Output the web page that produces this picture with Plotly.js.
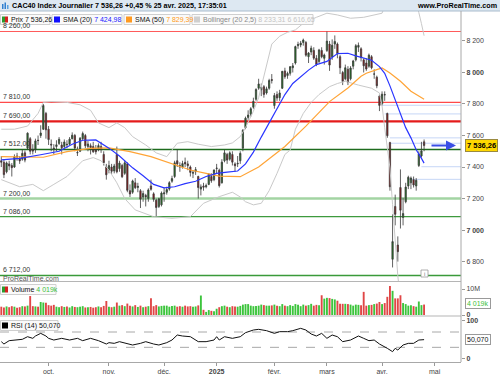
<!DOCTYPE html>
<html><head><meta charset="utf-8">
<script src="https://cdn.plot.ly/plotly-3.0.1.min.js"></script>
<style>html,body{margin:0;padding:0;background:#fff}#chart{width:500px;height:375px}</style>
</head><body><div id="chart"></div>
<script>
// ---------------- DATA ----------------
const dates = [
'2024-09-05','2024-09-06','2024-09-09','2024-09-10','2024-09-11','2024-09-12','2024-09-13','2024-09-16','2024-09-17','2024-09-18',
'2024-09-19','2024-09-20','2024-09-23','2024-09-24','2024-09-25','2024-09-26','2024-09-27','2024-09-30','2024-10-01','2024-10-02',
'2024-10-03','2024-10-04','2024-10-07','2024-10-08','2024-10-09','2024-10-10','2024-10-11','2024-10-14','2024-10-15','2024-10-16',
'2024-10-17','2024-10-18','2024-10-21','2024-10-22','2024-10-23','2024-10-24','2024-10-25','2024-10-28','2024-10-29','2024-10-30',
'2024-10-31','2024-11-01','2024-11-04','2024-11-05','2024-11-06','2024-11-07','2024-11-08','2024-11-11','2024-11-12','2024-11-13',
'2024-11-14','2024-11-15','2024-11-18','2024-11-19','2024-11-20','2024-11-21','2024-11-22','2024-11-25','2024-11-26','2024-11-27',
'2024-11-28','2024-11-29','2024-12-02','2024-12-03','2024-12-04','2024-12-05','2024-12-06','2024-12-09','2024-12-10','2024-12-11',
'2024-12-12','2024-12-13','2024-12-16','2024-12-17','2024-12-18','2024-12-19','2024-12-20','2024-12-23','2024-12-24','2024-12-27',
'2024-12-30','2024-12-31','2025-01-02','2025-01-03','2025-01-06','2025-01-07','2025-01-08','2025-01-09','2025-01-10','2025-01-13',
'2025-01-14','2025-01-15','2025-01-16','2025-01-17','2025-01-20','2025-01-21','2025-01-22','2025-01-23','2025-01-24','2025-01-27',
'2025-01-28','2025-01-29','2025-01-30','2025-01-31','2025-02-03','2025-02-04','2025-02-05','2025-02-06','2025-02-07','2025-02-10',
'2025-02-11','2025-02-12','2025-02-13','2025-02-14','2025-02-17','2025-02-18','2025-02-19','2025-02-20','2025-02-21','2025-02-24',
'2025-02-25','2025-02-26','2025-02-27','2025-02-28','2025-03-03','2025-03-04','2025-03-05','2025-03-06','2025-03-07','2025-03-10',
'2025-03-11','2025-03-12','2025-03-13','2025-03-14','2025-03-17','2025-03-18','2025-03-19','2025-03-20','2025-03-21','2025-03-24',
'2025-03-25','2025-03-26','2025-03-27','2025-03-28','2025-03-31','2025-04-01','2025-04-02','2025-04-03','2025-04-04','2025-04-07',
'2025-04-08','2025-04-09','2025-04-10','2025-04-11','2025-04-14','2025-04-15','2025-04-16','2025-04-17','2025-04-22','2025-04-23',
'2025-04-24','2025-04-25'];

const openP = [
7440,7430,7370,7420,7410,7400,7470,7455,7450,7490, 7520,7580,7510,7510,7570,7600,7640,7740,7640,7545,
7520,7530,7550,7540,7530,7545,7545,7580,7600,7490, 7500,7580,7600,7530,7535,7530,7510,7510,7530,7480,
7400,7380,7400,7375,7480,7390,7410,7360,7420,7250, 7240,7300,7270,7250,7210,7220,7200,7280,7230,7190,
7150,7160,7230,7240,7260,7310,7340,7440,7410,7400, 7430,7420,7400,7360,7370,7340,7260,7280,7275,7290,
7340,7320,7390,7380,7300,7440,7480,7450,7480,7420, 7420,7440,7520,7650,7715,7735,7780,7830,7900,7890,
7910,7870,7900,7955,7790,7860,7840,7900,8010,7980, 7995,8030,8060,8170,8175,8190,8190,8100,8130,8140,
8090,8070,8140,8090,8140,8180,8100,8180,8180,8100, 8000,7960,8020,7960,8040,8080,8160,8150,8080,8060,
8040,8100,7990,7970,7850,7800,7860,7740,7555,6815, 7150,6905,7270,7080,7180,7280,7300,7320,7280,7410,
7470,7560];
const highP = [
7470,7450,7435,7440,7425,7480,7490,7470,7510,7505, 7620,7590,7545,7580,7600,7665,7800,7750,7660,7575,
7545,7570,7590,7560,7575,7570,7590,7620,7610,7530, 7590,7625,7610,7565,7550,7560,7540,7550,7560,7500,
7420,7440,7420,7420,7530,7440,7420,7440,7430,7290, 7320,7330,7300,7260,7250,7230,7265,7320,7240,7200,
7205,7245,7270,7275,7310,7345,7440,7512,7430,7440, 7460,7440,7410,7380,7400,7345,7290,7300,7295,7360,
7360,7385,7420,7390,7450,7510,7490,7500,7500,7430, 7470,7500,7640,7720,7760,7780,7840,7900,7960,7930,
7920,7910,7960,7990,7870,7880,7890,8010,8030,8005, 8040,8060,8170,8195,8200,8215,8200,8130,8170,8160,
8110,8150,8160,8120,8260,8200,8210,8235,8190,8110, 8010,8050,8040,8040,8080,8180,8190,8160,8090,8090,
8120,8110,8020,7980,7860,7880,7880,7745,7560,7100, 7225,6960,7385,7205,7300,7345,7340,7340,7330,7500,
7560,7575];
const lowP = [
7400,7330,7360,7380,7340,7395,7440,7420,7440,7430, 7510,7480,7480,7490,7540,7585,7635,7580,7540,7500,
7480,7500,7540,7480,7520,7520,7540,7575,7500,7470, 7495,7570,7520,7500,7480,7490,7480,7500,7490,7410,
7320,7360,7355,7360,7360,7370,7330,7350,7240,7210, 7230,7260,7240,7140,7180,7150,7180,7250,7180,7086,
7140,7150,7180,7225,7250,7300,7330,7400,7370,7390, 7400,7380,7340,7330,7350,7200,7220,7250,7265,7285,
7300,7310,7360,7270,7295,7430,7420,7440,7410,7370, 7400,7420,7500,7640,7700,7720,7770,7820,7890,7850,
7840,7860,7890,7930,7770,7820,7820,7895,7960,7960, 7980,8000,8050,8150,8160,8170,8100,8060,8110,8080,
8040,8060,8090,8050,8130,8010,8080,8150,8090,7990, 7920,7950,7920,7950,8020,8070,8130,8070,8000,8010,
8030,8020,7960,7900,7755,7790,7820,7585,7250,6763, 7030,6800,7010,7030,7170,7260,7260,7270,7250,7400,
7460,7500];
const closeP = [
7431,7352,7426,7407,7396,7465,7465,7439,7487,7444, 7615,7500,7501,7566,7568,7616,7791,7636,7574,7540,
7515,7541,7576,7522,7559,7542,7577,7602,7521,7492, 7583,7613,7535,7546,7523,7497,7497,7536,7511,7428,
7351,7409,7373,7407,7370,7425,7339,7427,7252,7229, 7312,7269,7278,7196,7232,7212,7255,7259,7195,7143,
7199,7235,7236,7257,7301,7327,7427,7420,7400,7422, 7420,7409,7366,7366,7384,7270,7274,7272,7282,7355,
7313,7381,7393,7282,7431,7490,7444,7490,7431,7408, 7423,7487,7634,7710,7730,7770,7817,7892,7927,7906,
7861,7896,7949,7950,7854,7838,7870,8007,7973,7994, 8037,8042,8164,8178,8186,8206,8110,8123,8154,8091,
8051,8143,8100,8111,8199,8047,8173,8197,8120,8030, 7942,8030,7938,8028,8073,8170,8172,8094,8042,8022,
8110,8030,7990,7916,7791,7862,7858,7598,7275,6927, 7100,6863,7126,7105,7273,7335,7330,7286,7316,7483,
7502.4,7536.26];

// volume, millions
const volumeM = [
3.2,2.9,3.3,3.0,3.4,3.2,2.8,3.0,3.4,3.3,3.6, 7.3, 3.4,3.3,3.2, 5.0,4.8,4.7, 3.8,3.6,3.9,3.2,3.0,
3.4,3.1,3.3,2.9,3.4,3.1, 3.0,3.2,3.4,2.9,3.0,3.1,2.8,3.0,3.3,3.0,3.5, 5.4, 3.2,3.0,3.2, 4.8,
3.6,3.8,3.4,4.4, 3.6,3.3,3.8,3.1,3.6,3.0,3.2,3.4, 6.4,
3.4,3.8,3.3,3.5,3.6,3.6,3.2,3.5,3.6,3.2,3.4,3.2,3.6,3.3,3.4,3.2,3.3,3.7, 7.5,
2.0,1.2,1.9,1.6,1.4, 2.4,3.0,3.4,3.6,3.2,3.0,3.4,3.3,3.2, 3.5,4.0,4.2,4.2,3.6,3.4,3.5,
3.6,4.0,3.8,3.6,3.6,3.7,4.0,3.6,3.4,4.2,3.6,3.4,3.8, 3.5,4.2,3.9,3.4,4.0,3.6,3.8,4.3,3.6,3.9,3.8,
7.6, 6.3,6.6,6.5,6.2,6.0,5.5,4.3,4.3, 4.3,4.2,4.0,3.6,4.0,3.9,3.8, 8.9,
3.6,3.8,3.9,4.2,4.4,5.0,4.2, 4.6,7.0,11.2,9.3,6.4,6.4,7.6, 4.6,4.2,3.6,3.8,3.4,3.2, 5.2,3.8,4.019];

const sma20Dates = ['2024-09-05','2024-09-16','2024-09-26','2024-10-07','2024-10-14','2024-10-18','2024-10-25','2024-11-01','2024-11-07','2024-11-14',
'2024-11-20','2024-11-26','2024-12-02','2024-12-06','2024-12-12','2024-12-18','2024-12-24','2025-01-02','2025-01-08','2025-01-14',
'2025-01-17','2025-01-22','2025-01-27','2025-01-30','2025-02-04','2025-02-07','2025-02-12','2025-02-17','2025-02-20','2025-02-25',
'2025-03-03','2025-03-07','2025-03-13','2025-03-18','2025-03-21','2025-03-26','2025-03-31','2025-04-02','2025-04-04','2025-04-08',
'2025-04-10','2025-04-14','2025-04-16','2025-04-22','2025-04-24','2025-04-25'];
const sma20Vals = [7445,7455,7478,7500,7545,7570,7572,7520,7470,7395, 7345,7290,7268,7275,7295,7310,7340,7360,7368,7375,
7420,7495,7590,7680,7770,7860,7930,7975,8015,8050, 8070,8120,8122,8105,8090,8078,8037,7995,7915,7826,
7730,7650,7585,7510,7455,7424.98];

const sma50Dates = ['2024-09-05','2024-09-23','2024-09-27','2024-10-10','2024-10-23','2024-11-01','2024-11-13','2024-11-25','2024-12-04','2024-12-16',
'2024-12-24','2025-01-03','2025-01-15','2025-01-24','2025-02-07','2025-02-19','2025-03-04','2025-03-13','2025-03-20','2025-03-24',
'2025-03-28','2025-04-01','2025-04-04','2025-04-10','2025-04-16','2025-04-25'];
const sma50Vals = [7466,7466,7462,7498,7519,7522,7498,7466,7425,7381, 7360,7342,7339,7400,7530,7660,7815,7902,7976,7995,
8018,8029,7997,7944,7881,7829.39];

const bollUpDates = ['2024-09-05','2024-09-12','2024-09-19','2024-09-25','2024-09-27','2024-10-02','2024-10-10','2024-10-17','2024-10-23','2024-10-28',
'2024-11-01','2024-11-06','2024-11-11','2024-11-14','2024-11-21','2024-11-27','2024-12-03','2024-12-09','2024-12-13','2024-12-19',
'2024-12-30','2025-01-07','2025-01-10','2025-01-15','2025-01-17','2025-01-22','2025-01-24','2025-01-29','2025-01-31','2025-02-05',
'2025-02-10','2025-02-13','2025-02-18','2025-02-25','2025-03-03','2025-03-07','2025-03-14','2025-03-21','2025-03-27','2025-04-01',
'2025-04-03','2025-04-07','2025-04-10','2025-04-15','2025-04-22','2025-04-23','2025-04-24','2025-04-25'];
const bollUpVals = [7640,7640,7660,7740,7810,7815,7810,7795,7760,7680, 7650,7680,7650,7593,7540,7490,7466,7551,7561,7545,
7530,7540,7553,7593,7650,7754,7840,8045,8180,8230, 8255,8270,8312,8350,8376,8365,8344,8350,8365,8376,
8460,8650,8800,8700,8430,8380,8310,8233.31];

const bollLoDates = ['2024-09-05','2024-09-16','2024-09-23','2024-09-27','2024-10-03','2024-10-10','2024-10-18','2024-10-24','2024-10-29','2024-11-01',
'2024-11-06','2024-11-11','2024-11-15','2024-11-26','2024-12-05','2024-12-16','2024-12-23','2025-01-03','2025-01-10','2025-01-15',
'2025-01-17','2025-01-22','2025-01-27','2025-01-30','2025-02-04','2025-02-07','2025-02-11','2025-02-13','2025-02-18','2025-02-21',
'2025-02-26','2025-03-04','2025-03-07','2025-03-12','2025-03-19','2025-03-26','2025-03-31','2025-04-01','2025-04-02','2025-04-03',
'2025-04-04','2025-04-07','2025-04-08','2025-04-09','2025-04-10','2025-04-15','2025-04-22','2025-04-25'];
const bollLoVals = [7320,7275,7290,7250,7290,7340,7440,7460,7440,7380, 7300,7200,7128,7085,7075,7085,7170,7212,7240,7210,
7180,7160,7170,7250,7360,7480,7508,7640,7740,7810, 7860,7910,7930,7944,7920,7900,7870,7790,7650,7520,
7394,7161,6908,6709,6560,6450,6520,6616.65];

const rsiDates = ['2024-09-05','2024-09-06','2024-09-10','2024-09-13','2024-09-17','2024-09-19','2024-09-23','2024-09-24','2024-09-26','2024-09-30',
'2024-10-01','2024-10-03','2024-10-08','2024-10-11','2024-10-16','2024-10-18','2024-10-23','2024-10-28','2024-10-31','2024-11-01',
'2024-11-05','2024-11-07','2024-11-12','2024-11-14','2024-11-19','2024-11-21','2024-11-26','2024-11-28','2024-12-03','2024-12-05',
'2024-12-09','2024-12-11','2024-12-16','2024-12-19','2024-12-24','2024-12-31','2025-01-02','2025-01-03','2025-01-07','2025-01-10',
'2025-01-15','2025-01-17','2025-01-22','2025-01-24','2025-01-29','2025-02-03','2025-02-05','2025-02-10','2025-02-12','2025-02-17',
'2025-02-19','2025-02-21','2025-02-25','2025-02-27','2025-03-03','2025-03-05','2025-03-07','2025-03-11','2025-03-14','2025-03-19',
'2025-03-21','2025-03-25','2025-03-27','2025-03-31','2025-04-03','2025-04-07','2025-04-08','2025-04-09','2025-04-11','2025-04-15',
'2025-04-17','2025-04-23','2025-04-25'];
const rsiVals = [44.8,38.7,47.4,49.1,50.9,57.8,53.5,59.6,66.5,59.6, 53.5,49.1,53.5,49.1,53.5,47.4,53.5,47.4,38.7,42.2,
40.4,44.8,40.4,36.1,40.4,44.8,38.7,36.1,42.2,49.1, 62.2,59.6,57.8,44.8,44.8,49.1,57.8,49.1,57.8,53.5,
57.8,68.3,75.2,77,73.5,66.5,70.9,70.9,73.5,79.6, 75.2,64.8,59.6,66.5,53.5,62.2,57.8,44.8,49.1,59.6,
53.5,47.4,49.1,38.7,27.4,18.7,27.4,23,36.1,40.4, 40.4,49.1,50.07];

const levelVals = [8260, 7810, 7690, 7512, 7200, 7086, 6712];
const gapLevels = [7792, 7737, 7585, 7551, 7402, 7322];
const gapStartDates = ['2025-04-01','2025-04-02','2025-04-04','2025-04-04','2025-04-24','2025-04-15'];

const monthTickDates = ['2024-10-01','2024-11-01','2024-12-02','2025-01-02','2025-02-03','2025-03-03','2025-04-01'];
const monthTickLabels = ['oct.','nov.','déc.','<b>2025</b>','févr.','mars','avr.','mai'];
const priceTicks = [6800,7000,7200,7400,7600,7800,8000,8200];

// ---------------- BUILD ----------------
const W = 500, H = 375;
const fam = '"Liberation Sans", Arial, Helvetica, sans-serif';
const idx = d => dates.indexOf(d);
const xi = dates.map((d, i) => i);
const last = dates.length - 1;

function fr(v, dec) {
  const s = v.toFixed(dec).split('.');
  const ip = s[0].replace(/\B(?=(\d{3})+(?!\d))/g, ' ');
  return dec ? ip + ',' + s[1] : ip;
}
const pxX = x => x / W;
const pxY = y => 1 - y / H;

const plotRight = 461;
const xDomEnd = plotRight / W;
const xMax = 175.06;

const tickIdx = monthTickDates.map(idx).concat([last + 4]);
const priceTickText = priceTicks.map(v => (v % 1000 === 0) ? '<b>' + fr(v, 0) + '</b>' : fr(v, 0));

const traces = [];
traces.push({type:'scatter', mode:'lines', x: bollUpDates.map(idx), y: bollUpVals, line:{color:'#c9c9c9', width:1}, hoverinfo:'skip', xaxis:'x', yaxis:'y'});
traces.push({type:'scatter', mode:'lines', x: bollLoDates.map(idx), y: bollLoVals, line:{color:'#c9c9c9', width:1}, hoverinfo:'skip', xaxis:'x', yaxis:'y'});
traces.push({type:'candlestick', x: xi, open: openP, high: highP, low: lowP, close: closeP,
  increasing:{line:{color:'#3a3a3a', width:0.8}, fillcolor:'#1f7a1f'},
  decreasing:{line:{color:'#3a3a3a', width:0.8}, fillcolor:'#9a1010'},
  whiskerwidth:0, hoverinfo:'skip', xaxis:'x', yaxis:'y'});
traces.push({type:'scatter', mode:'lines', x: sma50Dates.map(idx), y: sma50Vals, line:{color:'#ffa436', width:1.2}, hoverinfo:'skip', xaxis:'x', yaxis:'y'});
traces.push({type:'scatter', mode:'lines', x: sma20Dates.map(idx), y: sma20Vals, line:{color:'#2a35ff', width:1.2}, hoverinfo:'skip', xaxis:'x', yaxis:'y'});
traces.push({type:'bar', x: xi, y: volumeM, marker:{color: closeP.map((c,i)=> c >= openP[i] ? '#3cc43c' : '#e04646'), line:{width:0}},
  hoverinfo:'skip', xaxis:'x', yaxis:'y2'});
traces.push({type:'scatter', mode:'lines', x: rsiDates.map(idx), y: rsiVals, line:{color:'#111', width:1}, hoverinfo:'skip', xaxis:'x', yaxis:'y3'});

const shapes = [];
const rectPx = (x0,y0,x1,y1,fill,lc,lw) => ({type:'rect', xref:'paper', yref:'paper', x0:pxX(x0), x1:pxX(x1), y0:pxY(y1), y1:pxY(y0), fillcolor:fill, line:{color:lc||fill, width: lw===undefined?0:lw}, layer:'above'});
const linePx = (x0,y0,x1,y1,c,w) => ({type:'line', xref:'paper', yref:'paper', x0:pxX(x0), x1:pxX(x1), y0:pxY(y0), y1:pxY(y1), line:{color:c, width:w}, layer:'above'});

// header
shapes.push(rectPx(0,0,500,11,'#dde8f2','#dde8f2',0));
shapes.push(linePx(0,11,500,11,'#a9bccd',1));
// header icon
shapes.push(rectPx(2,4,3.5,9,'#2f7fd0'));
shapes.push(rectPx(4.5,2.5,6,9,'#2f7fd0'));
shapes.push(rectPx(7,5,8.5,9,'#56a0e0'));

// level lines
const levelStyle = [
  {c:'#ff5a5a', w:1}, {c:'#ff4a4a', w:1.2}, {c:'#e41b1b', w:2.2}, {c:'#1d6b1d', w:1.5},
  {c:'#a3d4a3', w:2.5}, {c:'#3e9a3e', w:1.2}, {c:'#3a9a3a', w:1.5}];
levelVals.forEach((v,k) => shapes.push({type:'line', xref:'paper', yref:'y', x0:0, x1:xDomEnd, y0:v, y1:v,
  line:{color:levelStyle[k].c, width:levelStyle[k].w}, layer:'below'}));
// gap lines
gapLevels.forEach((v,k) => shapes.push({type:'line', xref:'x', yref:'y', x0: idx(gapStartDates[k]), x1: xMax, y0:v, y1:v,
  line:{color:'#c6d6f6', width:1}, layer:'below'}));
// RSI dashed
[70,30].forEach(v => shapes.push({type:'line', xref:'paper', yref:'y3', x0:0, x1:xDomEnd, y0:v, y1:v, line:{color:'#a8a8a8', width:1, dash:'dash'}, layer:'below'}));

// panel separators & right axis line
shapes.push(linePx(0,281.5,plotRight,281.5,'#b5b5b5',1));
shapes.push(linePx(0,316,plotRight,316,'#b5b5b5',1));
shapes.push(linePx(plotRight,11,plotRight,362,'#a8a8a8',1));

// legend boxes
shapes.push(rectPx(0.5,14.5,50,24.5,'#fafafa','#cfcfcf',1));
shapes.push(rectPx(2,16.5,5,22.5,'#2c9a2c'));
shapes.push(rectPx(5,16.5,8,22.5,'#d42020'));
shapes.push(rectPx(52,14.5,122,24.5,'#fafafa','#cfcfcf',1));
shapes.push(rectPx(54,16.5,60,22.5,'#1010ff'));
shapes.push(rectPx(124,14.5,190,24.5,'#fafafa','#cfcfcf',1));
shapes.push(rectPx(126,16.5,132,22.5,'#ff9a20'));
shapes.push(rectPx(192,14.5,313,24.5,'#fafafa','#cfcfcf',1));
shapes.push(rectPx(194,16.5,200,22.5,'#cfcfcf'));
// volume legend box
shapes.push(rectPx(0.5,284.5,56,294.5,'#fafafa','#cfcfcf',1));
shapes.push(rectPx(2,286.5,5,292.5,'#2c9a2c'));
shapes.push(rectPx(5,286.5,8,292.5,'#d42020'));
// rsi legend box
shapes.push(rectPx(0.5,320.5,58,330.5,'#fafafa','#cfcfcf',1));
shapes.push(rectPx(2,322.5,8,328.5,'#000'));
// small info icon
shapes.push(rectPx(421,270,428,277,'#fff','#999',0.8));

const A = [];
const txt = (x,y,text,o) => Object.assign({xref:'paper', yref:'paper', x:pxX(x), y:pxY(y), text:text, showarrow:false,
  xanchor:'left', yanchor:'middle', borderpad:0, font:{family:fam, size:7, color:'#111'}}, o||{});

A.push(txt(11,5.8,'<b>CAC40 Index Journalier 7 536,26 +0,45 % 25 avr. 2025, 17:35:01</b>',{font:{family:fam,size:7.2,color:'#000'}}));
A.push(txt(498,5.8,'<b>www.ProRealTime.com</b>',{xanchor:'right', font:{family:fam,size:7.2,color:'#000'}}));

A.push(txt(10,19.5,'Prix ' + fr(closeP[last],2)));
A.push(txt(62,19.5,'SMA (20) <span style="color:#2020ff">' + fr(sma20Vals[sma20Vals.length-1],2) + '</span>'));
A.push(txt(134,19.5,'SMA (50) <span style="color:#ff9a20">' + fr(sma50Vals[sma50Vals.length-1],2) + '</span>'));
A.push(txt(202,19.5,'<span style="color:#888">Bollinger (20 2,5)</span> <span style="color:#c4c4c4">' +
  fr(bollUpVals[bollUpVals.length-1],2) + ' ' + fr(bollLoVals[bollLoVals.length-1],2) + '</span>'));

const volLast = volumeM[last];
A.push(txt(10,289.5,'Volume <span style="color:#3cbf3c">' + fr(volLast*1000,0) + 'k</span>'));
A.push(txt(10,325.5,'RSI (14) ' + fr(rsiVals[rsiVals.length-1],3)));

A.push(txt(2,278,'ProRealTime.com',{font:{family:fam,size:7,color:'#555'}}));
A.push(txt(424.5,273.5,'i',{xanchor:'center', font:{family:fam,size:6,color:'#777'}}));

// level labels
levelVals.forEach(v => A.push({xref:'paper', yref:'y', x:pxX(2), y:v, yshift:1, text: fr(v,2), showarrow:false,
  xanchor:'left', yanchor:'bottom', borderpad:0, font:{family:fam, size:7, color:'#333'}}));

// price box & arrow
A.push({xref:'paper', yref:'y', x:pxX(481), y:closeP[last], text:'<b>' + fr(closeP[last],2) + '</b>', showarrow:false,
  xanchor:'center', yanchor:'middle', bgcolor:'#ffd700', bordercolor:'#9a8a40', borderwidth:1, borderpad:1,
  font:{family:fam, size:7.5, color:'#000'}});
A.push({xref:'paper', yref:'y', x:pxX(456), y:closeP[last], ax:-26, ay:0, text:'', showarrow:true,
  arrowhead:2, arrowsize:1, arrowwidth:2, arrowcolor:'#3a4ee6'});
// volume & rsi value boxes
A.push({xref:'paper', yref:'paper', x:pxX(465), y:pxY(303.5), text: fr(volLast*1000,0) + 'k', showarrow:false,
  xanchor:'left', yanchor:'middle', bgcolor:'#fff', bordercolor:'#9a9a9a', borderwidth:1, borderpad:1,
  font:{family:fam, size:7, color:'#3cbf3c'}});
A.push({xref:'paper', yref:'y3', x:pxX(465), y:rsiVals[rsiVals.length-1], text: fr(rsiVals[rsiVals.length-1],3), showarrow:false,
  xanchor:'left', yanchor:'middle', bgcolor:'#fff', bordercolor:'#9a9a9a', borderwidth:1, borderpad:1,
  font:{family:fam, size:7, color:'#111'}});

const axFont = {family:fam, size:7, color:'#444'};
const layout = {
  width: W, height: H, margin:{l:0, r:0, t:0, b:0, pad:0},
  paper_bgcolor:'#fff', plot_bgcolor:'#fff', showlegend:false, hovermode:false, bargap:0.28,
  font:{family:fam, size:7, color:'#222'},
  xaxis:{domain:[0, xDomEnd], range:[-0.495, xMax], anchor:'y3', tickmode:'array', tickvals: tickIdx, ticktext: monthTickLabels,
    ticks:'outside', ticklen:3, tickcolor:'#999', tickfont:axFont, showgrid:false, zeroline:false,
    showline:true, linecolor:'#a8a8a8', linewidth:1, rangeslider:{visible:false}, fixedrange:true},
  yaxis:{domain:[pxY(281), pxY(11)], range:[6677, 8390], side:'right', anchor:'x', tickmode:'array', tickvals: priceTicks,
    ticktext: priceTickText, ticks:'outside', ticklen:3, tickcolor:'#999', tickfont:axFont, showgrid:false, zeroline:false, showline:false, fixedrange:true},
  yaxis2:{domain:[pxY(315), pxY(282)], range:[0, 12.7], side:'right', anchor:'x', tickmode:'array', tickvals:[0,10],
    ticktext:['<b>0</b>','10M'], ticks:'outside', ticklen:3, tickcolor:'#999', tickfont:axFont, showgrid:false, zeroline:false, showline:false, fixedrange:true},
  yaxis3:{domain:[pxY(362), pxY(317)], range:[-8.3, 109.2], side:'right', anchor:'x', tickmode:'array', tickvals:[0,100],
    ticktext:['<b>0</b>','<b>100</b>'], ticks:'outside', ticklen:3, tickcolor:'#999', tickfont:axFont, showgrid:false, zeroline:false, showline:false, fixedrange:true},
  shapes: shapes, annotations: A
};
Plotly.newPlot('chart', traces, layout, {staticPlot:true, displayModeBar:false});
</script></body></html>
